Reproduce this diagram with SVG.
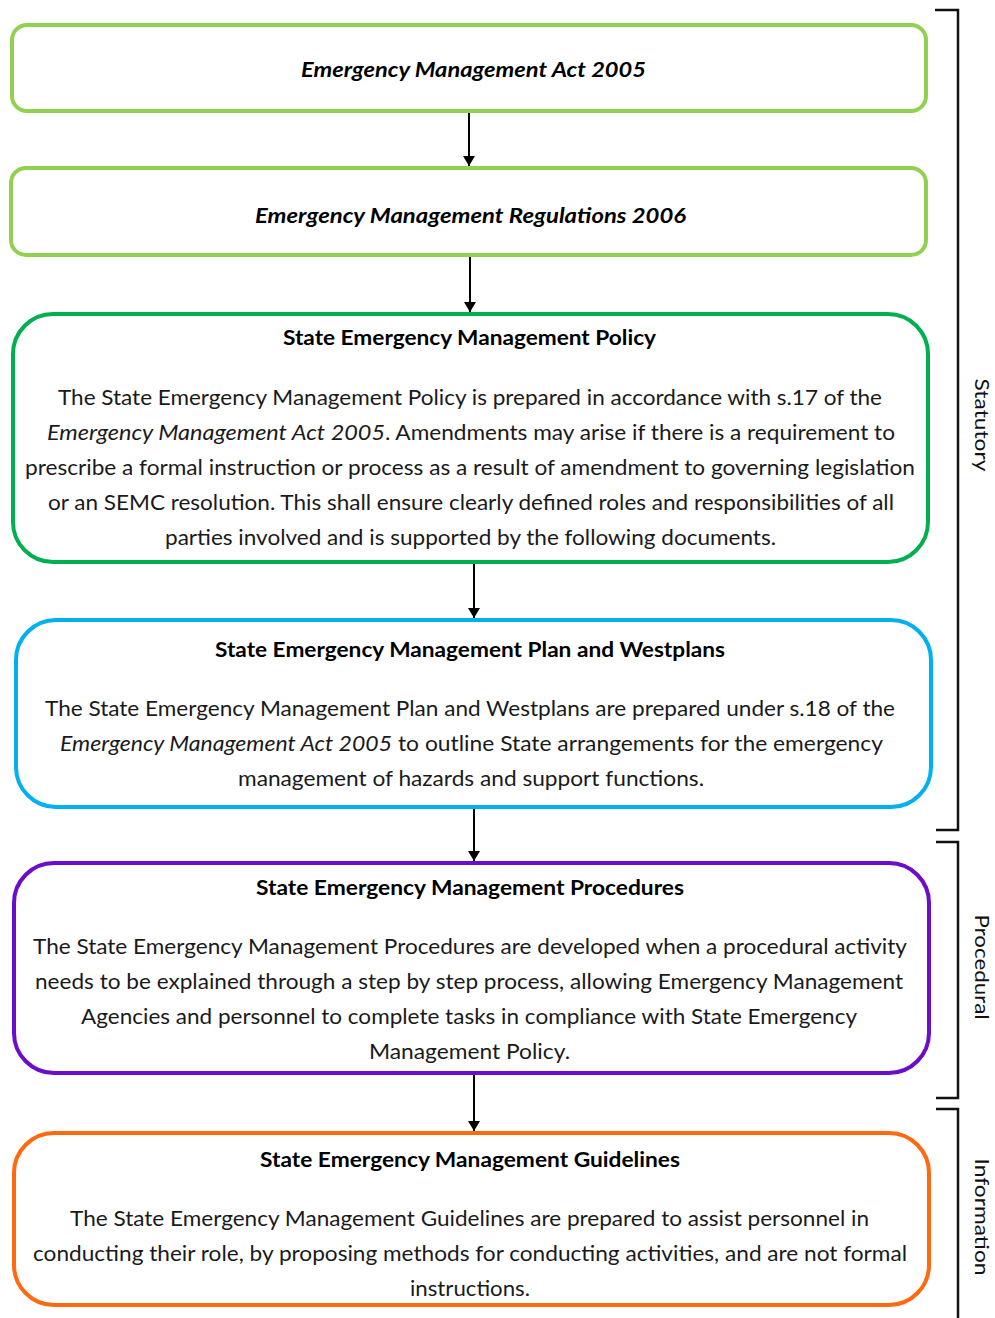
<svg xmlns="http://www.w3.org/2000/svg" width="995" height="1318" viewBox="0 0 995 1318">
<defs>
<marker id="ah" viewBox="0 0 10 12" refX="10" refY="6" markerWidth="10" markerHeight="12" markerUnits="userSpaceOnUse" orient="auto">
<path d="M0,0 L10,6 L0,12 Z" fill="#000"/>
</marker>
<style>
.box{fill:#fff;stroke-width:4}
.t{font-family:Lato,"Open Sans","Liberation Sans",sans-serif;font-size:21px;fill:#1a1a1a}
.b{font-weight:bold;fill:#000}
.bi{font-weight:bold;font-style:italic;fill:#000}
.i{font-style:italic}
.side{font-family:Lato,"Open Sans","Liberation Sans",sans-serif;font-size:20px;fill:#111;text-anchor:middle}
.con{stroke:#000;stroke-width:2;fill:none}
.br{stroke:#111;stroke-width:2.5;fill:none}
</style>
</defs>
<rect width="995" height="1318" fill="#fff"/>

<g id="brackets">
<path class="br" d="M935,10 H958 V830 H936"/>
<path class="br" d="M936,842 H958 V1098 H936"/>
<path class="br" d="M936,1109 H958 V1318"/>
<text class="side" transform="translate(975,425) rotate(90)" textLength="93" lengthAdjust="spacingAndGlyphs">Statutory</text>
<text class="side" transform="translate(975,967) rotate(90)" textLength="105" lengthAdjust="spacingAndGlyphs">Procedural</text>
<text class="side" transform="translate(975,1217) rotate(90)" textLength="117" lengthAdjust="spacingAndGlyphs">Information</text>
</g>

<g id="connectors">
<line class="con" x1="469" y1="113" x2="469" y2="166" marker-end="url(#ah)"/>
<line class="con" x1="470" y1="257" x2="470" y2="312" marker-end="url(#ah)"/>
<line class="con" x1="474" y1="564" x2="474" y2="618" marker-end="url(#ah)"/>
<line class="con" x1="474" y1="809" x2="474" y2="861" marker-end="url(#ah)"/>
<line class="con" x1="474" y1="1075" x2="474" y2="1131" marker-end="url(#ah)"/>
</g>

<g id="act">
<rect class="box" x="12" y="25" width="914" height="86" rx="15" stroke="#92D050"/>
<text class="t bi" x="301" y="77" textLength="345" lengthAdjust="spacingAndGlyphs">Emergency Management Act 2005</text>
</g>

<g id="regulations">
<rect class="box" x="11" y="168" width="915" height="87" rx="15" stroke="#92D050"/>
<text class="t bi" x="255" y="223" textLength="431" lengthAdjust="spacingAndGlyphs">Emergency Management Regulations 2006</text>
</g>

<g id="policy">
<rect class="box" x="13" y="314" width="915" height="248" rx="40" stroke="#00B050"/>
<text class="t b" x="283" y="345" textLength="373" lengthAdjust="spacingAndGlyphs">State Emergency Management Policy</text>
<text class="t" x="58" y="405" textLength="824" lengthAdjust="spacingAndGlyphs">The State Emergency Management Policy is prepared in accordance with s.17 of the</text>
<text class="t i" x="47" y="440" textLength="338" lengthAdjust="spacingAndGlyphs">Emergency Management Act 2005</text>
<text class="t" x="385" y="440" textLength="510" lengthAdjust="spacingAndGlyphs">. Amendments may arise if there is a requirement to</text>
<text class="t" x="25" y="475" textLength="890" lengthAdjust="spacingAndGlyphs">prescribe a formal instruction or process as a result of amendment to governing legislation</text>
<text class="t" x="48" y="510" textLength="846" lengthAdjust="spacingAndGlyphs">or an SEMC resolution. This shall ensure clearly defined roles and responsibilities of all</text>
<text class="t" x="165" y="545" textLength="611" lengthAdjust="spacingAndGlyphs">parties involved and is supported by the following documents.</text>
</g>

<g id="plan">
<rect class="box" x="16" y="620" width="915" height="187" rx="40" stroke="#00B0F0"/>
<text class="t b" x="215" y="657" textLength="510" lengthAdjust="spacingAndGlyphs">State Emergency Management Plan and Westplans</text>
<text class="t" x="45" y="716" textLength="850" lengthAdjust="spacingAndGlyphs">The State Emergency Management Plan and Westplans are prepared under s.18 of the</text>
<text class="t i" x="60" y="751" textLength="332" lengthAdjust="spacingAndGlyphs">Emergency Management Act 2005</text>
<text class="t" x="398" y="751" textLength="485" lengthAdjust="spacingAndGlyphs">to outline State arrangements for the emergency</text>
<text class="t" x="238" y="786" textLength="466" lengthAdjust="spacingAndGlyphs">management of hazards and support functions.</text>
</g>

<g id="procedures">
<rect class="box" x="14" y="863" width="915" height="210" rx="40" stroke="#6A0DCC"/>
<text class="t b" x="256" y="895" textLength="428" lengthAdjust="spacingAndGlyphs">State Emergency Management Procedures</text>
<text class="t" x="33" y="954" textLength="874" lengthAdjust="spacingAndGlyphs">The State Emergency Management Procedures are developed when a procedural activity</text>
<text class="t" x="35" y="989" textLength="868" lengthAdjust="spacingAndGlyphs">needs to be explained through a step by step process, allowing Emergency Management</text>
<text class="t" x="81" y="1024" textLength="776" lengthAdjust="spacingAndGlyphs">Agencies and personnel to complete tasks in compliance with State Emergency</text>
<text class="t" x="369" y="1059" textLength="201" lengthAdjust="spacingAndGlyphs">Management Policy.</text>
</g>

<g id="guidelines">
<rect class="box" x="14" y="1133" width="915" height="172" rx="40" stroke="#FF6A10"/>
<text class="t b" x="260" y="1167" textLength="420" lengthAdjust="spacingAndGlyphs">State Emergency Management Guidelines</text>
<text class="t" x="70" y="1226" textLength="799" lengthAdjust="spacingAndGlyphs">The State Emergency Management Guidelines are prepared to assist personnel in</text>
<text class="t" x="33" y="1261" textLength="874" lengthAdjust="spacingAndGlyphs">conducting their role, by proposing methods for conducting activities, and are not formal</text>
<text class="t" x="410" y="1296" textLength="120" lengthAdjust="spacingAndGlyphs">instructions.</text>
</g>
</svg>
